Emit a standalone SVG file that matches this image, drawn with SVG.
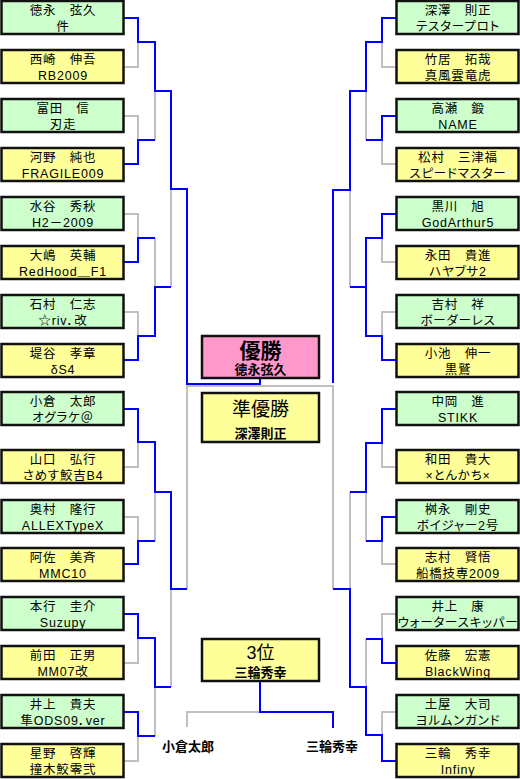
<svg xmlns="http://www.w3.org/2000/svg" width="520" height="779" viewBox="0 0 520 779">
<style>
.bg{fill:#ffffff}
.g rect{fill:#ccffcc;stroke:#111;stroke-width:2.5}
.y rect{fill:#ffff99;stroke:#111;stroke-width:2.5}
.p rect{fill:#ff99cc;stroke:#111;stroke-width:2.5}
text{font-family:"Liberation Sans","Noto Sans CJK JP",sans-serif;fill:#000;text-anchor:middle}
.n text{font-size:12.5px;letter-spacing:0.8px;font-feature-settings:"palt"}
.b{font-weight:bold}
.win{fill:none;stroke:#0000ff;stroke-width:2}
.lose{fill:none;stroke:#c0c0c0;stroke-width:2}
</style>
<rect class="bg" x="0" y="0" width="520" height="779"/>
<g id="connectors">
<g class="lose">
<path d="M124,67H138V42"/>
<path d="M124,116H138V140"/>
<path d="M155,140V91"/>
<path d="M124,214H138V238"/>
<path d="M155,238V287"/>
<path d="M124,312H138V336"/>
<path d="M171,287V189"/>
<path d="M124,467H138V442"/>
<path d="M124,517H138V541"/>
<path d="M155,541V492"/>
<path d="M124,663H138V638"/>
<path d="M124,761H138V736"/>
<path d="M155,736V687"/>
<path d="M171,687V589"/>
<path d="M187,589V386H333V589"/>
<path d="M396,67H382V42"/>
<path d="M366,140V91"/>
<path d="M396,164H382V140"/>
<path d="M396,262H382V238"/>
<path d="M396,312H382V336"/>
<path d="M350,287V190"/>
<path d="M396,467H382V443"/>
<path d="M366,541V492"/>
<path d="M396,564H382V541"/>
<path d="M350,492V589"/>
<path d="M396,614H382V639"/>
<path d="M366,639V687"/>
<path d="M396,712H382V735"/>
<path d="M260,712H187V727"/>
</g>
<g class="win">
<path d="M124,18H138V42H155V91H171V189H187V384H260V378"/>
<path d="M124,164H138V140H155"/>
<path d="M124,262H138V238H155"/>
<path d="M124,360H138V336H155V287H171"/>
<path d="M124,409H138V442H155V492H171V589H187"/>
<path d="M124,564H138V541H155"/>
<path d="M124,614H138V638H155V687H171"/>
<path d="M124,712H138V736H155"/>
<path d="M396,18H382V42H366V91H350V190H333V383"/>
<path d="M396,116H382V140H366"/>
<path d="M396,214H382V238H366V287"/>
<path d="M396,360H382V336H366V287H350"/>
<path d="M396,409H382V443H366V492H350"/>
<path d="M396,517H382V541H366"/>
<path d="M396,663H382V639H366"/>
<path d="M396,761H382V735H366V687H350V589H333"/>
<path d="M260,681V712H333V728"/>
</g>
</g>
<g class="n">
<g id="L1" class="g"><rect x="1.5" y="1" width="122" height="33"/><text x="63" y="15">徳永　弦久</text><text x="63" y="31">件</text></g>
<g id="L2" class="y"><rect x="1.5" y="50" width="122" height="33"/><text x="63" y="64">西崎　伸吾</text><text x="63" y="80">RB2009</text></g>
<g id="L3" class="g"><rect x="1.5" y="99" width="122" height="33"/><text x="63" y="113">富田　信</text><text x="63" y="129">刃走</text></g>
<g id="L4" class="y"><rect x="1.5" y="148" width="122" height="33"/><text x="63" y="162">河野　純也</text><text x="63" y="178">FRAGILE009</text></g>
<g id="L5" class="g"><rect x="1.5" y="197" width="122" height="33"/><text x="63" y="211">水谷　秀秋</text><text x="63" y="227">H2－2009</text></g>
<g id="L6" class="y"><rect x="1.5" y="246" width="122" height="33"/><text x="63" y="260">大嶋　英輔</text><text x="63" y="276">RedHood＿F1</text></g>
<g id="L7" class="g"><rect x="1.5" y="295" width="122" height="33"/><text x="63" y="309">石村　仁志</text><text x="63" y="325">☆riv．改</text></g>
<g id="L8" class="y"><rect x="1.5" y="344" width="122" height="33"/><text x="63" y="358">堤谷　孝章</text><text x="63" y="374">δS4</text></g>
<g id="L9" class="g"><rect x="1.5" y="392" width="122" height="33"/><text x="63" y="406">小倉　太郎</text><text x="63" y="422">オグラケ＠</text></g>
<g id="L10" class="y"><rect x="1.5" y="450" width="122" height="33"/><text x="63" y="464">山口　弘行</text><text x="63" y="480">さめす鮫吉B4</text></g>
<g id="L11" class="g"><rect x="1.5" y="500" width="122" height="33"/><text x="63" y="514">奥村　隆行</text><text x="63" y="530">ALLEXTypeX</text></g>
<g id="L12" class="y"><rect x="1.5" y="548" width="122" height="33"/><text x="63" y="562">阿佐　美斉</text><text x="63" y="578">MMC10</text></g>
<g id="L13" class="g"><rect x="1.5" y="597" width="122" height="33"/><text x="63" y="611">本行　圭介</text><text x="63" y="627">Suzupy</text></g>
<g id="L14" class="y"><rect x="1.5" y="646" width="122" height="33"/><text x="63" y="660">前田　正男</text><text x="63" y="676">MM07改</text></g>
<g id="L15" class="g"><rect x="1.5" y="695" width="122" height="33"/><text x="63" y="709">井上　貴夫</text><text x="63" y="725">隼ODS09．ver</text></g>
<g id="L16" class="y"><rect x="1.5" y="744" width="122" height="33"/><text x="63" y="758">星野　啓輝</text><text x="63" y="774">撞木鮫零弐</text></g>
<g id="R1" class="g"><rect x="396.5" y="1" width="122" height="33"/><text x="458" y="15">深澤　則正</text><text x="458" y="31">テスタープロト</text></g>
<g id="R2" class="y"><rect x="396.5" y="50" width="122" height="33"/><text x="458" y="64">竹居　拓哉</text><text x="458" y="80">真風雲竜虎</text></g>
<g id="R3" class="g"><rect x="396.5" y="99" width="122" height="33"/><text x="458" y="113">高瀬　鍛</text><text x="458" y="129">NAME</text></g>
<g id="R4" class="y"><rect x="396.5" y="148" width="122" height="33"/><text x="458" y="162">松村　三津福</text><text x="458" y="178">スピードマスター</text></g>
<g id="R5" class="g"><rect x="396.5" y="197" width="122" height="33"/><text x="458" y="211">黒川　旭</text><text x="458" y="227">GodArthur5</text></g>
<g id="R6" class="y"><rect x="396.5" y="246" width="122" height="33"/><text x="458" y="260">永田　貴進</text><text x="458" y="276">ハヤブサ2</text></g>
<g id="R7" class="g"><rect x="396.5" y="295" width="122" height="33"/><text x="458" y="309">吉村　祥</text><text x="458" y="325">ボーダーレス</text></g>
<g id="R8" class="y"><rect x="396.5" y="344" width="122" height="33"/><text x="458" y="358">小池　伸一</text><text x="458" y="374">黒鷲</text></g>
<g id="R9" class="g"><rect x="396.5" y="392" width="122" height="33"/><text x="458" y="406">中岡　進</text><text x="458" y="422">STIKK</text></g>
<g id="R10" class="y"><rect x="396.5" y="450" width="122" height="33"/><text x="458" y="464">和田　貴大</text><text x="458" y="480">×とんかち×</text></g>
<g id="R11" class="g"><rect x="396.5" y="500" width="122" height="33"/><text x="458" y="514">桝永　剛史</text><text x="458" y="530">ボイジャー2号</text></g>
<g id="R12" class="y"><rect x="396.5" y="548" width="122" height="33"/><text x="458" y="562">志村　賢悟</text><text x="458" y="578">船橋技専2009</text></g>
<g id="R13" class="g"><rect x="396.5" y="597" width="122" height="33"/><text x="458" y="611">井上　康</text><text x="458" y="627">ウォータースキッパー</text></g>
<g id="R14" class="y"><rect x="396.5" y="646" width="122" height="33"/><text x="458" y="660">佐藤　宏憲</text><text x="458" y="676">BlackWing</text></g>
<g id="R15" class="g"><rect x="396.5" y="695" width="122" height="33"/><text x="458" y="709">土屋　大司</text><text x="458" y="725">ヨルムンガンド</text></g>
<g id="R16" class="y"><rect x="396.5" y="744" width="122" height="33"/><text x="458" y="758">三輪　秀幸</text><text x="458" y="774">Infiny</text></g>
</g>
<g id="champion" class="p"><rect x="202" y="336" width="117" height="42"/><text x="260.5" y="358" class="b" font-size="21">優勝</text><text x="260.5" y="374" class="b" font-size="13">徳永弦久</text></g>
<g id="runnerup" class="y"><rect x="202" y="393" width="117" height="49"/><text x="260.5" y="416" font-size="19">準優勝</text><text x="260.5" y="438" class="b" font-size="13">深澤則正</text></g>
<g id="third" class="y"><rect x="202" y="639" width="117" height="42"/><text x="260.5" y="659" font-size="18">3位</text><text x="260.5" y="677" class="b" font-size="13">三輪秀幸</text></g>
<g id="label-ogura"><text x="188" y="751" class="b" font-size="13">小倉太郎</text></g>
<g id="label-miwa"><text x="332" y="751" class="b" font-size="13">三輪秀幸</text></g>
</svg>
